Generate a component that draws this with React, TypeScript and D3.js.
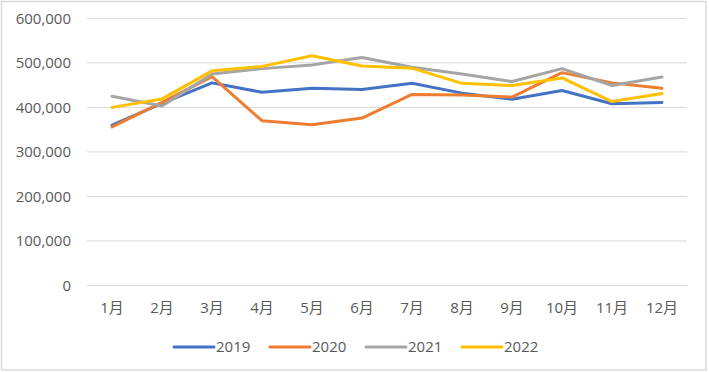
import * as d3 from 'd3';
import { FunctionComponent, useEffect, useRef } from "react";

const months = ['1月', '2月', '3月', '4月', '5月', '6月', '7月', '8月', '9月', '10月', '11月', '12月'];
const years = ['2019', '2020', '2021', '2022'];
const colors = ['#4472C4', '#ED7D31', '#A5A5A5', '#FFC000'];

const values2019 = [360000, 409000, 455000, 434000, 443000, 440000, 454000, 432000, 418000, 438000, 408000, 411000];
const values2020 = [356000, 411000, 469000, 370000, 361000, 376000, 429000, 428000, 423000, 478000, 455000, 443000];
const values2021 = [425000, 403000, 475000, 487000, 495000, 512000, 490000, 475000, 458000, 487000, 449000, 468000];
const values2022 = [400000, 419000, 482000, 492000, 516000, 493000, 488000, 454000, 449000, 466000, 413000, 431000];

const yTicks = [0, 100000, 200000, 300000, 400000, 500000, 600000];

const seriesList = [values2019, values2020, values2021, values2022];

const App: FunctionComponent = () => {
    const width = 709;
    const height = 372;
    const ref = useRef<SVGSVGElement>(null);

    useEffect(() => {
        const svg = d3.select(ref.current!);
        svg.selectAll('*').remove();

        const font = '"Open Sans", "Noto Sans CJK JP", sans-serif';
        const textColor = '#595959';

        svg.append('rect')
            .attr('x', 1.5).attr('y', 1.5)
            .attr('width', 704.5).attr('height', 368.5)
            .attr('fill', '#fff')
            .attr('stroke', '#d9d9d9')
            .attr('stroke-width', 1.5);

        const x = d3.scaleBand(months, [87, 687]);
        const y = d3.scaleLinear([0, 600000], [285.5, 18.3]);

        // grid lines
        svg.append('g')
            .selectAll('line')
            .data(yTicks)
            .join('line')
            .attr('x1', 87).attr('x2', 687)
            .attr('y1', d => y(d)).attr('y2', d => y(d))
            .attr('stroke', '#d9d9d9')
            .attr('stroke-width', 1);

        svg.append('g')
            .selectAll('text')
            .data(yTicks)
            .join('text')
            .attr('x', 71)
            .attr('y', d => y(d))
            .attr('dy', '0.35em')
            .attr('text-anchor', 'end')
            .attr('font-family', font)
            .attr('font-size', 15)
            .attr('fill', textColor)
            .text(d => d3.format(',')(d));

        svg.append('g')
            .selectAll('text')
            .data(months)
            .join('text')
            .attr('x', d => x(d)! + x.bandwidth() / 2)
            .attr('y', 308)
            .attr('dy', '0.35em')
            .attr('text-anchor', 'middle')
            .attr('font-family', font)
            .attr('font-size', 15)
            .attr('fill', textColor)
            .text(d => d);

        const line = d3.line<number>()
            .x((_, i) => x(months[i])! + x.bandwidth() / 2)
            .y(d => y(d));

        seriesList.forEach((values, i) => {
            svg.append('path')
                .attr('fill', 'none')
                .attr('stroke', colors[i])
                .attr('stroke-width', 3)
                .attr('stroke-linejoin', 'round')
                .attr('stroke-linecap', 'round')
                .attr('d', line(values));
        });

        // legend
        const legendX = [174, 270, 366, 462];
        const legend = svg.append('g');
        years.forEach((year, i) => {
            legend.append('line')
                .attr('x1', legendX[i]).attr('x2', legendX[i] + 40)
                .attr('y1', 347).attr('y2', 347)
                .attr('stroke', colors[i])
                .attr('stroke-width', 3)
                .attr('stroke-linecap', 'round');
            legend.append('text')
                .attr('x', legendX[i] + 42)
                .attr('y', 347)
                .attr('dy', '0.35em')
                .attr('font-family', font)
                .attr('font-size', 15)
                .attr('fill', textColor)
                .text(year);
        });
    }, []);

    return <>
        <style>{`body{margin:0}`}</style>
        <svg ref={ref} width={width} height={height} viewBox={`0 0 ${width} ${height}`} style={{ display: 'block' }} />
    </>
}

export default App;
